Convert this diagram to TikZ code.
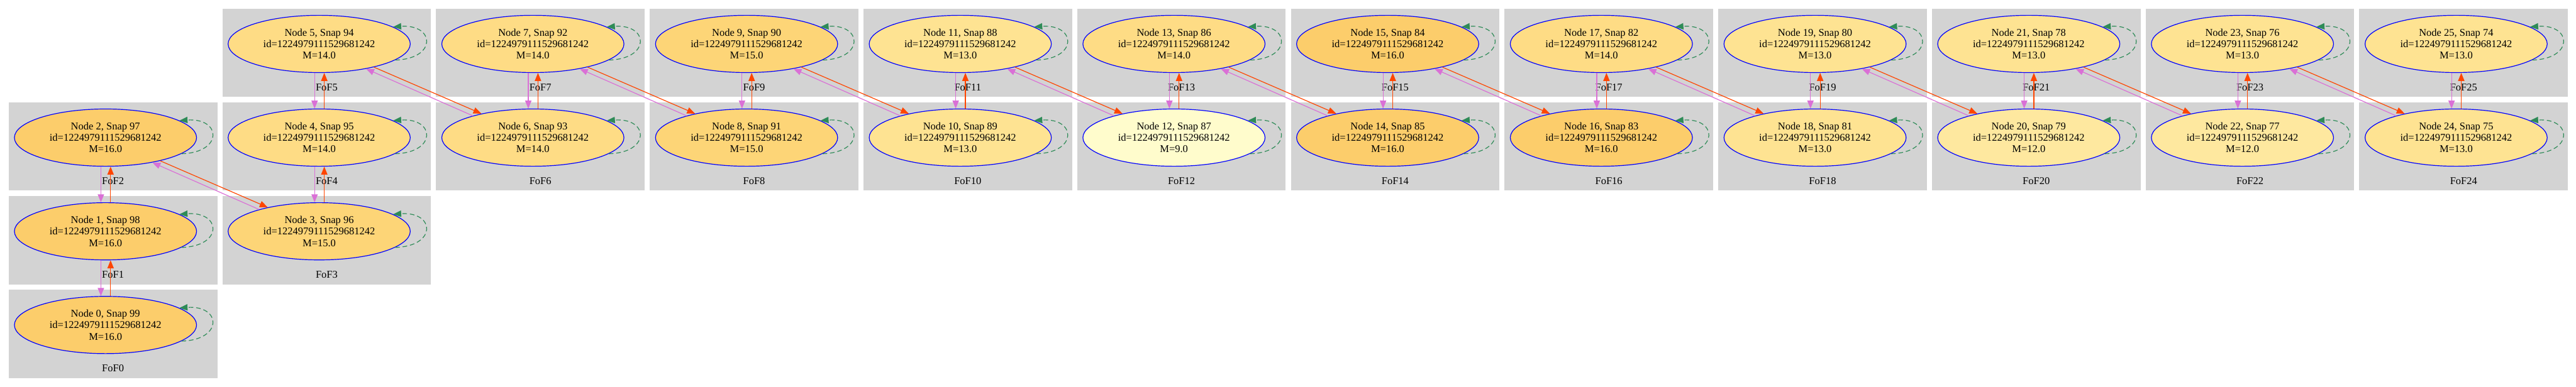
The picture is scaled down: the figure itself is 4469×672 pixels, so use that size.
\documentclass[tikz,border=0pt]{standalone}
\usepackage{fontspec}
\setmainfont{Liberation Serif}
\usetikzlibrary{shapes.geometric,arrows.meta}
\definecolor{clgrey}{HTML}{D3D3D3}
\definecolor{orchidc}{HTML}{DA70D6}
\definecolor{orangeredc}{HTML}{FF4500}
\definecolor{seagreenc}{HTML}{2E8B57}
\definecolor{bordblue}{HTML}{0000FF}
\definecolor{fillm9}{HTML}{FFFCCC}
\definecolor{fillm12}{HTML}{FEE89F}
\definecolor{fillm13}{HTML}{FEE392}
\definecolor{fillm14}{HTML}{FEDC85}
\definecolor{fillm15}{HTML}{FDD577}
\definecolor{fillm16}{HTML}{FCCD6B}
\begin{document}
\begin{tikzpicture}[x=1pt,y=-1pt,
  cluster/.style={rectangle,fill=clgrey,draw=none,minimum width=362pt,minimum height=153.3pt,inner sep=0pt,outer sep=0pt,anchor=north west},
  fofnode/.style={ellipse,draw=bordblue,line width=1.3pt,minimum width=316pt,minimum height=99.4pt,inner sep=0pt,align=center,font=\fontsize{18}{20}\selectfont},
  foflabel/.style={inner sep=0pt,font=\fontsize{18}{20}\selectfont},
  tip/.style={-{Triangle[length=14pt,width=11pt]}},
  vioedge/.style={draw=orchidc,line width=1.3pt,tip},
  oredge/.style={draw=orangeredc,line width=1.3pt,tip},
  loopedge/.style={draw=seagreenc,line width=1.3pt,dash pattern=on 8pt off 5pt,tip}]
\useasboundingbox (0,0) rectangle (4469,672);
\foreach \i/\c/\r/\m in {0/0/3/16,1/0/2/16,2/0/1/16,3/1/2/15,4/1/1/14,5/1/0/14,
  6/2/1/14,7/2/0/14,8/3/1/15,9/3/0/15,10/4/1/13,11/4/0/13,12/5/1/9,13/5/0/14,
  14/6/1/16,15/6/0/16,16/7/1/16,17/7/0/14,18/8/1/13,19/8/0/13,20/9/1/12,21/9/0/13,
  22/10/1/12,23/10/0/13,24/11/1/13,25/11/0/13}{
  \pgfmathsetmacro{\L}{15+370.73*\c}
  \pgfmathsetmacro{\T}{15+162.7*\r}
  \pgfmathtruncatemacro{\snap}{99-\i}
  \node[cluster] (c\i) at (\L,\T) {};
  \node[foflabel] (l\i) at (\L+181,\T+136.6) {FoF\i};
  \node[fofnode,fill=fillm\m] (n\i) at (\L+168,\T+61.3) {Node \i, Snap \snap\\id=1224979111529681242\\M=\m.0};
  \draw[loopedge] (n\i.-12) .. controls +(73,-2) and +(73,-5) .. (n\i.13);
}
\foreach \l/\u in {0/1,1/2,3/4,4/5,6/7,8/9,10/11,12/13,14/15,16/17,18/19,20/21,22/23,24/25}{
  \draw[vioedge] (n\u.-99) -- (n\l.99);
  \draw[oredge] (n\l.80) -- (n\u.-80);
}
\foreach \a/\b in {2/3,5/6,7/8,9/10,11/12,13/14,15/16,17/18,19/20,21/22,23/24}{
  \draw[oredge] (n\a.-23) -- (n\b.155);
  \draw[vioedge] (n\b.160) -- (n\a.-28);
}
\end{tikzpicture}
\end{document}
